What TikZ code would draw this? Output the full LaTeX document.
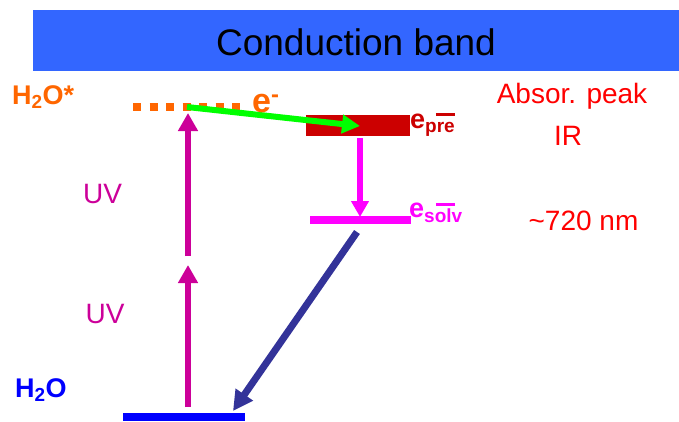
\documentclass[tikz,border=0pt]{standalone}
\usepackage{fontspec}
\setmainfont{Liberation Sans}
\usetikzlibrary{arrows.meta,positioning}
\definecolor{bandBlue}{HTML}{3366FF}
\definecolor{groundBlue}{HTML}{0000FF}
\definecolor{exOrange}{HTML}{FF6600}
\definecolor{preRed}{HTML}{CC0000}
\definecolor{solvMagenta}{HTML}{FF00FF}
\definecolor{uvPurple}{HTML}{CC0099}
\definecolor{relaxBlue}{HTML}{333399}
\definecolor{hopGreen}{HTML}{00FF00}
\definecolor{peakRed}{HTML}{FF0000}
\newcommand{\elsub}[3]{e\raisebox{-#2}{\fontsize{19}{20}\selectfont #1\llap{\rule[16pt]{19pt}{3pt}\hspace{#3}}}}
\begin{document}
\begin{tikzpicture}[x=1pt,y=-1pt,>=Triangle,line cap=butt]
\useasboundingbox (0,0) rectangle (679,421);
\tikzset{level/.style={draw=none,inner sep=0pt,outer sep=0pt},
  uvarrow/.style={draw=uvPurple,line width=6pt,-{Triangle[length=18pt,width=19pt]}},
  label/.style={anchor=base,inner sep=0pt,font=\fontsize{28}{30}\selectfont},
  species/.style={anchor=base west,inner sep=0pt,font=\fontsize{27}{30}\selectfont\bfseries}}
% conduction band
\node[level,fill=bandBlue,minimum width=646pt,minimum height=61pt] (cb) at (356,40.5) {};
\node[label,font=\fontsize{37}{40}\selectfont] (cbtext) at (356,55) {Conduction band};
% levels
\node[level,fill=groundBlue,minimum width=122pt,minimum height=8pt] (ground) at (184,417) {};
\node[level,fill=preRed,minimum width=104pt,minimum height=21pt] (pre) at (358,125.5) {};
\node[level,fill=solvMagenta,minimum width=101pt,minimum height=8pt] (solv) at (360.5,220) {};
\coordinate (exL) at (133,107); \coordinate (exR) at (240,107);
\draw[exOrange,line width=8pt,dash pattern=on 8pt off 8.5pt] (exL) -- (exR);
% transitions
\coordinate (uvA) at (188,407); \coordinate (uvB) at (188,265);
\coordinate (uvC) at (188,256); \coordinate (uvD) at (188,113);
\draw[uvarrow] (uvA) -- (uvB);
\draw[uvarrow] (uvC) -- (uvD);
\coordinate (hopA) at (187,107); \coordinate (hopB) at (360,126);
\draw[hopGreen,line width=6pt,-{Triangle[length=18pt,width=18pt]}] (hopA) -- (hopB);
\coordinate (solA) at (360,138); \coordinate (solB) at (360,217);
\draw[solvMagenta,line width=6pt,-{Triangle[length=16pt,width=17pt]}] (solA) -- (solB);
\coordinate (relA) at (357,232); \coordinate (relB) at (233,411);
\draw[relaxBlue,line width=7pt,-{Triangle[length=20pt,width=20pt]}] (relA) -- (relB);
% labels
\node[species,text=exOrange] (h2oex) at (12,104) {H\textsubscript{2}O*};
\node[species,text=groundBlue] (h2o) at (15,397) {H\textsubscript{2}O};
\node[species,font=\fontsize{34}{36}\selectfont\bfseries,text=exOrange] (eex) at (252,112) {e\textsuperscript{-}};
\node[species,text=preRed] (epre) at (410,128) {\elsub{pre}{4pt}{0pt}};
\node[species,text=solvMagenta] (esolv) at (409,217) {\elsub{solv}{5pt}{7pt}};
\node[label,text=uvPurple] (uvtop) at (102.5,203) {UV};
\node[label,text=uvPurple] (uvbot) at (105,323) {UV};
\node[label,text=peakRed] (peak) at (572,103) {Absor. peak};
\node[label,text=peakRed] (ir) at (568,145) {IR};
\node[label,text=peakRed] (nm) at (583.5,230) {\textasciitilde 720 nm};
\end{tikzpicture}
\end{document}
